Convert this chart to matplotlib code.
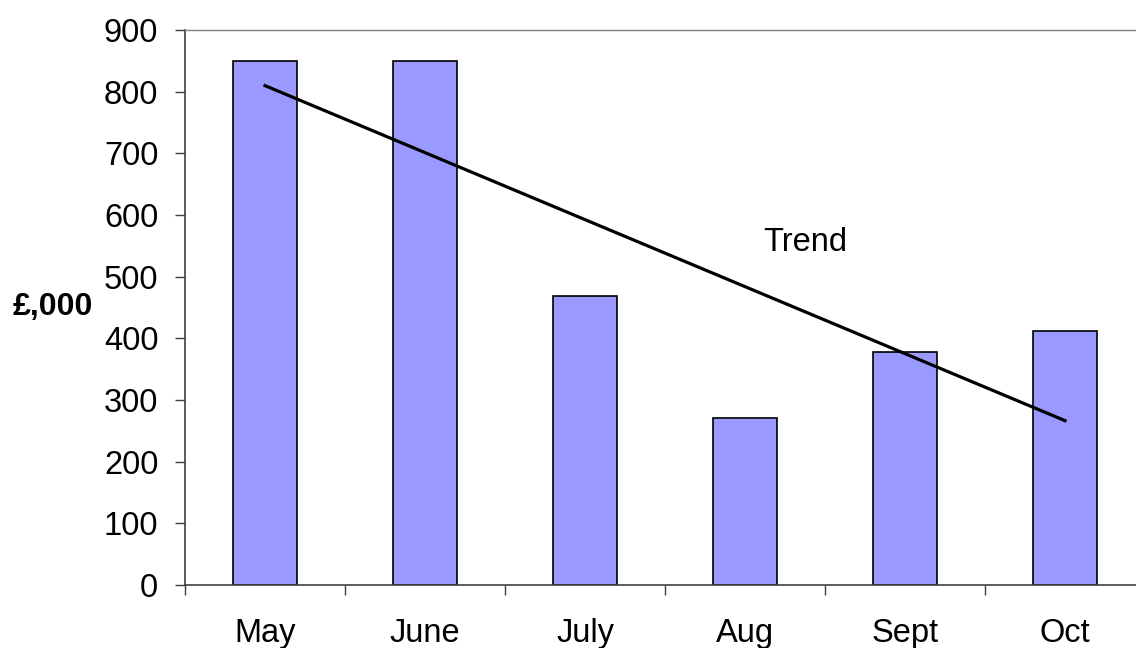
import matplotlib
matplotlib.use("Agg")
import matplotlib.pyplot as plt
import numpy as np

plt.rcParams['font.family'] = ['Liberation Sans', 'DejaVu Sans']

months = ["May", "June", "July", "Aug", "Sept", "Oct"]
values = [850, 850, 468, 271, 378, 412]
y_ticks = [0, 100, 200, 300, 400, 500, 600, 700, 800, 900]
y_label = "£,000"
trend_label = "Trend"

FS = 23.5

fig = plt.figure(figsize=(11.36, 6.48), dpi=100)
ax = fig.add_axes([185/1136, 63/648, 951/1136, 555/648])

x = np.arange(len(months))
ax.bar(x, values, width=0.4, color="#9999FF", edgecolor="black", linewidth=1.2, zorder=2)

coef = np.polyfit(x, values, 1)
trend = np.polyval(coef, x)
ax.plot([x[0], x[-1]], [trend[0], trend[-1]], color="black", linewidth=2.3, zorder=3)
ax.text(3.375, 556, trend_label, ha="center", va="center", fontsize=FS)

ax.set_xlim(-0.5, -0.5 + 951/160)
ax.set_ylim(0, 900)
ax.set_yticks(y_ticks)
ax.set_yticklabels([str(v) for v in y_ticks], fontsize=FS)
ax.set_xticks(x - 0.5, minor=False)
ax.set_xticklabels([])
ax.set_xticks(x, minor=True)
ax.set_xticklabels(months, minor=True, fontsize=FS)
ax.tick_params(axis="x", which="minor", length=0, pad=24)
ax.tick_params(axis="x", which="major", length=7.2, width=1, color="#404040", direction="out")
ax.tick_params(axis="y", length=7.2, width=1, color="#404040", direction="out", pad=12)

for s in ["left", "bottom"]:
    ax.spines[s].set_color("#404040")
    ax.spines[s].set_linewidth(1.2)
ax.spines["top"].set_color("#808080")
ax.spines["top"].set_linewidth(1.0)
ax.spines["right"].set_visible(False)

ax.set_ylabel(y_label, rotation=0, fontsize=23, fontweight="bold", ha="center", va="center")
ax.yaxis.set_label_coords(-0.1385, 0.5)

fig.savefig("out.png", dpi=100)
